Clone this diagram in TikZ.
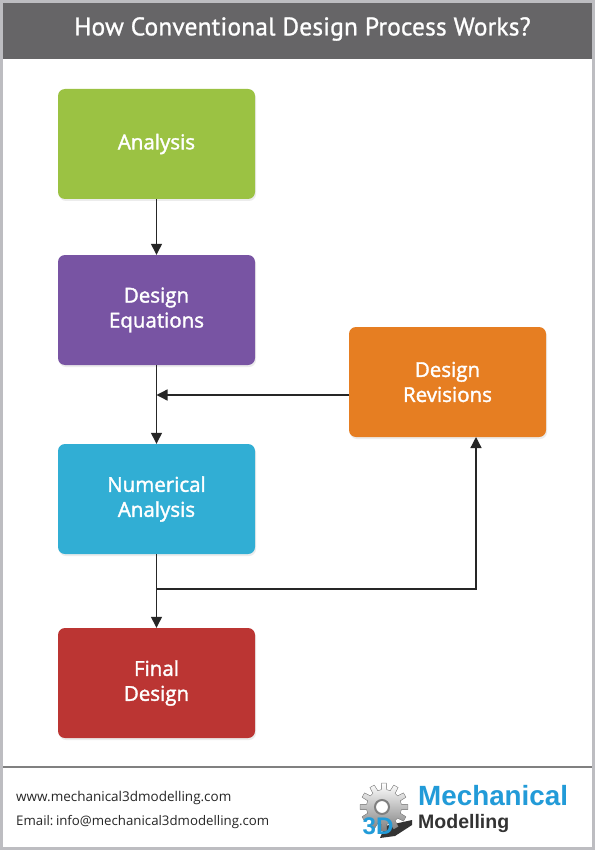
\documentclass[tikz,border=0pt]{standalone}
\usepackage{fontspec}
\setmainfont{Open Sans}
\newfontfamily\titlefont[FakeBold=1,LetterSpace=0.5]{PT Sans}
\newfontfamily\boxfont[FakeBold=1.8]{Open Sans}
\newfontfamily\mailfont[WordSpace=0.4]{Open Sans}
\newfontfamily\logofont{Liberation Sans}
\usepackage{xcolor}
\usetikzlibrary{arrows.meta,calc,shadows}
\definecolor{framegray}{HTML}{BDBDC1}
\definecolor{headgray}{HTML}{666567}
\definecolor{logoblue}{HTML}{229BD8}
\tikzset{box/.style={rounded corners=7pt,minimum width=197pt,minimum height=110pt,align=center,text=white,
    font=\boxfont\fontsize{20.5}{25}\selectfont,inner sep=0pt,execute at begin node={\vspace*{2pt}},
    drop shadow={shadow xshift=1pt,shadow yshift=-2pt,opacity=0.15}},
  arr/.style={-{Triangle[length=11pt,width=11pt]},line width=1.3pt,black!85},
  contact/.style={anchor=west,inner sep=0pt,font=\fontsize{13.5}{16}\selectfont,text=black!85}}
\begin{document}
\begin{tikzpicture}[x=1pt,y=-1pt]
\useasboundingbox (0,0) rectangle (595,850);
% page frame, header and footer
\fill[framegray] (0,0) rectangle (595,850);
\fill[white] (3,3) rectangle (592,847);
\fill[headgray] (3,3) rectangle (592,59);
\draw[gray,line width=1.5pt] (3,767)--(592,767);
\node[text=white,font=\titlefont\fontsize{25.5}{28}\selectfont,inner sep=0pt] (title) at (302.5,29) {How Conventional Design Process Works?};
% boxes
\node[box,fill={rgb,255:red,155;green,194;blue,67}] (analysis) at (156.5,144) {Analysis};
\node[box,fill={rgb,255:red,120;green,84;blue,163}] (equations) at (156.5,310) {Design\\Equations};
\node[box,fill={rgb,255:red,49;green,174;blue,212}] (numerical) at (156.5,499) {Numerical\\Analysis};
\node[box,fill={rgb,255:red,187;green,53;blue,51}] (final) at (156.5,683) {Final\\Design};
\node[box,fill={rgb,255:red,230;green,126;blue,34}] (revisions) at (447.5,382) {Design\\Revisions};
\coordinate (revout) at (349,395);
\coordinate (joinin) at (156.5,395);
\coordinate (numout) at (156.5,589);
\coordinate (revin) at (476,437);
% connectors
\draw[arr] (analysis)--(equations);
\draw[arr] (equations)--(numerical);
\draw[arr] (revout)--(joinin);
\draw[arr] (numerical)--(final);
\draw[arr] (numout)-|(revin);
% footer text
\node[contact] (web) at (16,798) {www.mechanical3dmodelling.com};
\node[contact] (mail) at (16,822) {\mailfont\fontsize{13.25}{16}\selectfont Email: info@mechanical3dmodelling.com};
% logo
\fill[black!80] (385,826)--(412,820)--(412,825)--(395,836)--(380,838)--cycle;
\begin{scope}[shift={(384,807)}]
\fill[top color=white,bottom color=black!50,draw=black!45,line width=0.4pt] (-9:17.5)
  \foreach \a in {0,30,...,330} { -- (\a-6:24) -- (\a+6:24) -- (\a+9:17.5) -- (\a+21:17.5) } -- cycle;
\fill[white,draw=black!50,line width=2pt] (-2,0) circle (7pt);
\end{scope}
\node[inner sep=0pt,font=\logofont\fontsize{24}{24}\selectfont\bfseries,text=logoblue] (threed) at (378,826) {3D};
\node[inner sep=0pt,anchor=base west,font=\logofont\fontsize{27.8}{28}\selectfont\bfseries,text=logoblue] (mech) at (418,805) {Mechanical};
\node[inner sep=0pt,anchor=base west,font=\logofont\fontsize{19.5}{20}\selectfont\bfseries,text=black!80] (model) at (418,828) {Modelling};
\end{tikzpicture}
\end{document}
